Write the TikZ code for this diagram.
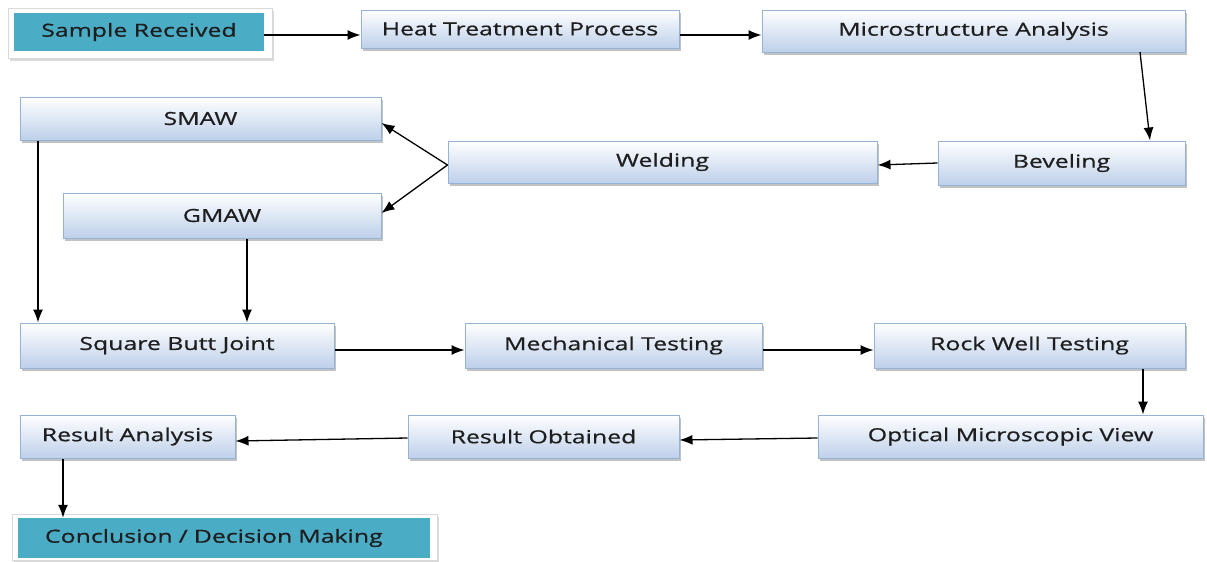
\documentclass[tikz,border=0pt]{standalone}
\usepackage{fontspec}
\setmainfont{Open Sans}
\newfontfamily\boxfont[FakeStretch=1.38, FakeBold=0.7]{Open Sans}
\usetikzlibrary{shadows,arrows.meta}
\definecolor{teal1}{RGB}{75,172,198}
\definecolor{bordb}{RGB}{149,179,215}
\definecolor{botb}{RGB}{190,208,234}
\definecolor{txt}{RGB}{30,30,30}
\tikzset{
  gbox/.style={draw=bordb, line width=1pt, top color=white, bottom color=botb,
    drop shadow={shadow xshift=2pt, shadow yshift=-3pt, fill=black!40, opacity=0.6},
    font=\boxfont\fontsize{18}{20}\selectfont, text=txt, inner sep=0pt},
  tbox/.style={fill=teal1, draw=none, font=\boxfont\fontsize{18}{20}\selectfont, text=txt, inner sep=0pt},
  tframe/.style={fill=white, draw=black!15, line width=1pt,
    drop shadow={shadow xshift=2pt, shadow yshift=-3pt, fill=black!25, opacity=0.6}},
  arr/.style={-{Latex[length=13pt,width=10pt]}, line width=1.3pt, black}
}
\begin{document}
\begin{tikzpicture}[x=1pt,y=-1pt]
\useasboundingbox (0,0) rectangle (1207,562);
% teal frames
\draw[tframe] (8,8) rectangle (272,58);
\draw[tframe] (12,514) rectangle (437,560);
\node[tbox, minimum width=250pt, minimum height=38pt] (sr) at (139,32) {Sample Received};
\node[tbox, minimum width=412pt, minimum height=40pt, text width=358pt, align=left] (cd) at (224,538) {Conclusion / Decision Making};
% gradient boxes
\newcommand{\gb}[6]{\node[gbox, minimum width=#4pt, minimum height=#5pt] (#1) at (#2,#3) {#6};}
\gb{ht}{520}{29}{318}{38}{Heat Treatment Process}
\gb{ma}{973.5}{31}{423}{42}{Microstructure Analysis}
\gb{sm}{200.5}{118.5}{361}{43}{SMAW}
\gb{we}{662.5}{162}{429}{42}{Welding}
\gb{bv}{1061.5}{163}{247}{44}{Beveling}
\gb{gm}{222}{215.5}{318}{45}{GMAW}
\gb{sb}{177}{345.5}{314}{45}{Square Butt Joint}
\gb{mt}{613.5}{345.5}{297}{45}{Mechanical Testing}
\gb{rw}{1029.5}{345.5}{311}{45}{Rock Well Testing}
\gb{ra}{127.5}{436.5}{215}{43}{Result Analysis}
\gb{ro}{543.5}{436.5}{271}{43}{Result Obtained}
\gb{ov}{1010.5}{436.5}{385}{43}{Optical Microscopic View}
% connectors
\draw[arr] (sr.east |- 0,35) -- (ht.west |- 0,35);
\draw[arr] (ht.east |- 0,35) -- (ma.west |- 0,35);
\draw[arr] (1140,52) coordinate (c1) -- (bv.north -| 1150,0);
\draw[arr] (bv.west) -- (we.east |- 0,165);
\coordinate (wl) at (we.west |- 0,165);
\draw[arr] (wl) -- (sm.east |- 0,123);
\draw[arr] (wl) -- (gm.east |- 0,213);
\draw[arr] (sm.south -| 38,0) -- (sb.north -| 38,0);
\draw[arr] (gm.south -| 247,0) -- (sb.north -| 247,0);
\draw[arr] (sb.east |- 0,350) -- (mt.west |- 0,350);
\draw[arr] (mt.east |- 0,350) -- (rw.west |- 0,350);
\draw[arr] (rw.south -| 1143,0) -- (ov.north -| 1143,0);
\draw[arr] (ov.west |- 0,438) -- (ro.east |- 0,440);
\draw[arr] (ro.west |- 0,438) -- (ra.east |- 0,441);
\draw[arr] (ra.south -| 63,0) -- (cd.north -| 63,0);
\end{tikzpicture}
\end{document}
